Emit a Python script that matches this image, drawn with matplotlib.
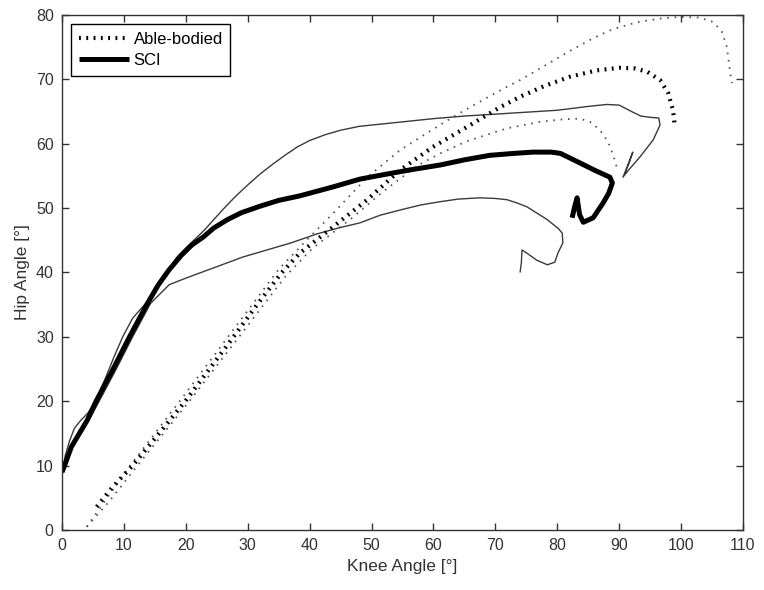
import numpy as np
import matplotlib
matplotlib.use('Agg')
import matplotlib.pyplot as plt

plt.rcParams['font.family'] = ['Liberation Sans', 'DejaVu Sans']

# Able-bodied mean (thick dotted)
ab_knee = [5.6, 8.0, 11.4, 15.5, 19.9, 23.8, 27.7, 31.5, 35.5, 38.4, 43.8, 49.3, 54.6, 59.9,
           65.4, 70.8, 74.0, 78.0, 82.0, 86.4, 90.0, 92.5, 94.5, 96.6, 97.9, 98.7, 99.0]
ab_hip = [3.6, 6.5, 10.0, 14.8, 20.0, 25.0, 30.0, 35.0, 40.0, 43.0, 47.1, 51.3, 55.9, 59.5,
          62.6, 65.7, 67.3, 69.0, 70.4, 71.4, 71.8, 71.7, 71.2, 69.9, 67.9, 65.2, 62.6]

# Able-bodied +SD (thin dotted)
ab_up_knee = [4.0, 7.0, 11.0, 19.4, 27.2, 35.0, 40.0, 43.8, 49.3, 54.6, 60.0, 64.3, 70.8,
              74.0, 78.3, 82.0, 86.0, 89.0, 93.0, 97.0, 100.0, 103.0, 105.2, 106.6, 107.4,
              107.8, 108.2]
ab_up_hip = [0.5, 4.6, 10.0, 20.5, 30.5, 40.5, 45.5, 49.2, 54.8, 59.0, 62.3, 64.8, 68.3,
             69.9, 72.3, 74.4, 76.5, 77.8, 78.9, 79.5, 79.7, 79.6, 78.9, 77.4, 75.0, 72.0,
             69.4]

# Able-bodied -SD (thin dotted)
ab_lo_knee = [4.0, 7.5, 12.0, 20.4, 28.2, 36.0, 40.5, 46.5, 51.9, 57.4, 61.1, 65.4, 71.9,
              77.2, 81.0, 83.7, 85.5, 86.9, 88.2, 89.0, 89.5, 89.7]
ab_lo_hip = [0.5, 4.3, 9.8, 19.8, 29.5, 39.3, 43.8, 48.2, 52.6, 56.6, 58.5, 60.4, 62.4,
             63.4, 63.8, 63.9, 63.3, 62.1, 60.3, 58.3, 56.8, 55.6]

# SCI mean (thick solid)
sci_knee = [0.0, 0.4, 1.5, 2.8, 4.1, 5.5, 8.2, 10.9, 13.8, 15.5, 17.2, 19.2, 21.0, 22.8,
            24.5, 26.7, 29.0, 32.0, 35.0, 38.4, 43.8, 48.1, 51.4, 56.0, 61.1, 65.0, 69.1,
            73.0, 76.1, 79.0, 80.5, 82.0, 83.7, 86.0, 88.5, 88.9, 88.3, 87.4, 85.8, 84.2,
            83.6, 83.2, 82.8, 82.4]
sci_hip = [9.0, 10.0, 12.9, 15.0, 17.1, 20.0, 24.9, 30.0, 35.2, 38.0, 40.3, 42.6, 44.3, 45.5,
           46.9, 48.2, 49.3, 50.3, 51.2, 51.9, 53.3, 54.5, 55.1, 55.9, 56.7, 57.5, 58.2,
           58.5, 58.7, 58.7, 58.5, 57.8, 57.0, 55.9, 54.8, 53.9, 52.3, 50.8, 48.5, 47.8,
           49.0, 51.6, 50.2, 48.5]

# SCI +SD (thin solid)
sci_up_knee = [0.0, 0.5, 1.2, 2.0, 3.0, 4.2, 5.5, 7.1, 8.4, 9.8, 11.4, 13.8, 15.5, 17.0,
               18.5, 20.0, 21.5, 23.0, 24.5, 26.0, 28.0, 30.0, 32.0, 34.0, 36.0, 38.0, 40.0,
               42.5, 45.0, 48.0, 51.0, 55.0, 60.0, 65.0, 70.0, 75.0, 80.0, 85.0, 88.0, 90.0,
               92.0, 93.5, 95.0, 96.4, 96.6, 95.5, 93.4, 91.6, 90.6, 91.6, 92.2, 91.7, 91.0]
sci_up_hip = [8.5, 11.5, 13.8, 15.8, 17.0, 18.2, 20.2, 23.8, 26.9, 30.0, 32.9, 35.5, 37.8,
              40.2, 42.3, 43.8, 45.2, 46.6, 48.2, 49.8, 51.8, 53.6, 55.3, 56.8, 58.2, 59.5,
              60.5, 61.4, 62.1, 62.7, 63.0, 63.4, 63.9, 64.3, 64.6, 64.9, 65.2, 65.8, 66.1,
              66.0, 65.0, 64.3, 64.1, 64.0, 62.9, 60.6, 58.0, 56.0, 54.8, 57.0, 58.7, 57.5,
              55.6]

# SCI -SD (thin solid)
sci_lo_knee = [0.0, 0.6, 1.8, 3.2, 4.6, 6.0, 8.7, 11.4, 14.3, 17.3, 19.4, 21.6, 25.0, 29.2,
               33.1, 37.0, 41.2, 45.0, 48.1, 51.4, 55.0, 58.0, 61.1, 64.0, 67.5, 70.0, 71.9,
               73.5, 75.1, 78.4, 80.2, 80.8, 80.9, 80.1, 79.6, 78.4, 76.7, 75.1, 74.3, 74.2,
               74.0]
sci_lo_hip = [8.5, 11.0, 13.5, 15.5, 17.5, 20.0, 24.9, 30.0, 35.2, 38.1, 38.9, 39.7, 40.9,
              42.4, 43.5, 44.6, 46.0, 47.0, 47.7, 48.9, 49.8, 50.5, 51.0, 51.4, 51.6, 51.5,
              51.3, 50.8, 50.2, 48.2, 46.8, 46.1, 44.6, 43.0, 41.6, 41.2, 41.9, 43.0, 43.5,
              41.5, 40.1]

fig = plt.figure(figsize=(7.64, 5.90), dpi=100)
ax = fig.add_axes([0.0812, 0.1017, 0.8913, 0.8729])

thin_dot = dict(color='#555555', lw=1.3, linestyle=(0, (0.9, 3.2)), dash_capstyle='butt')
ax.plot(ab_up_knee, ab_up_hip, **thin_dot)
ax.plot(ab_lo_knee, ab_lo_hip, **thin_dot)
ax.plot(sci_up_knee, sci_up_hip, color='#3a3a3a', lw=1.0)
ax.plot(sci_lo_knee, sci_lo_hip, color='#3a3a3a', lw=1.0)
ax.plot(ab_knee, ab_hip, color='black', lw=3.0, linestyle=(0, (0.45, 1.3)),
        dash_capstyle='butt', label='Able-bodied')
ax.plot(sci_knee, sci_hip, color='black', lw=3.6, solid_capstyle='butt',
        solid_joinstyle='round', label='SCI')

ax.set_xlim(0, 110)
ax.set_ylim(0, 80)
ax.set_xticks(np.arange(0, 111, 10))
ax.set_yticks(np.arange(0, 81, 10))
ax.tick_params(direction='in', length=5, width=1, top=True, right=True,
               labelsize=11.5, colors='#333333', pad=6)
for s in ax.spines.values():
    s.set_color('#333333')
    s.set_linewidth(1.0)

ax.set_xlabel('Knee Angle [°]', fontsize=12.5, color='#333333', labelpad=4)
ax.set_ylabel('Hip Angle [°]', fontsize=12.5, color='#333333', labelpad=4)

leg = ax.legend(loc='upper left', fontsize=12, handlelength=3.0, handletextpad=0.3,
                fancybox=False, framealpha=1, edgecolor='black', borderaxespad=0.55,
                borderpad=0.45, labelspacing=0.4)
leg.get_frame().set_linewidth(1.0)

fig.savefig('out.png', dpi=100)
